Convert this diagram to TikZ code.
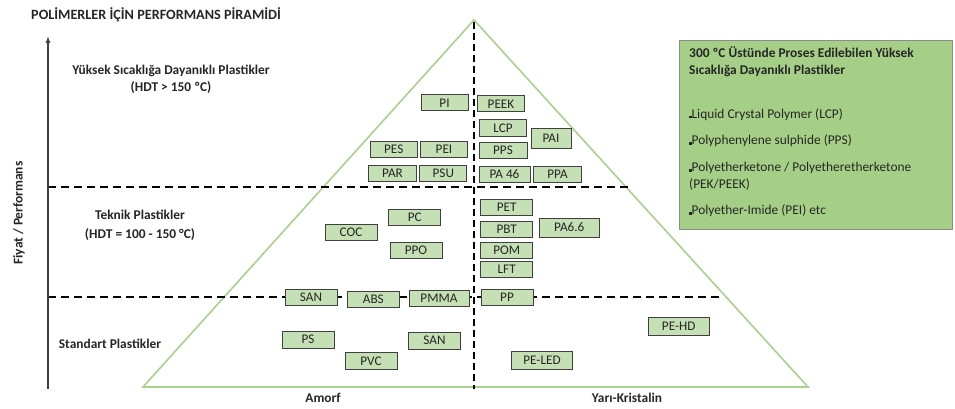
\documentclass[tikz,border=0pt]{standalone}
\usepackage{fontspec}
\setmainfont{Carlito}
\usetikzlibrary{arrows.meta}
\definecolor{tri}{HTML}{A9D18E}
\definecolor{boxfill}{HTML}{C5E0B4}
\definecolor{boxdraw}{HTML}{404040}
\definecolor{sidefill}{HTML}{A5CF86}
\definecolor{sidedraw}{HTML}{8C8C8C}
\definecolor{txt}{HTML}{262626}
\newcommand{\sqbul}{\rule{2.4pt}{2.4pt}}
\begin{document}
\begin{tikzpicture}[x=1pt,y=-1pt,
  pbox/.style={draw=boxdraw, line width=1pt, fill=boxfill, minimum width=#1,
    minimum height=16pt, inner sep=0pt, text=txt, font=\fontsize{13.2}{14}\selectfont},
  pbox/.default=52pt,
  divider/.style={line width=2pt, dash pattern=on 8pt off 5pt},
  lbl/.style={text=txt, font=\bfseries\fontsize{13.4}{18}\selectfont, align=center},
  sidetxt/.style={anchor=base west, text=txt, inner sep=0pt, font=\fontsize{13.4}{15}\selectfont}]
\useasboundingbox (0,0) rectangle (955,409);

% triangle
\coordinate (apex) at (474,20);
\coordinate (bl) at (143,387);
\coordinate (br) at (808,387);
\draw[tri, line width=1.6pt, line join=miter] (apex) -- (bl) -- (br) -- cycle;

% dividers
\coordinate (vtop) at (474,22);
\coordinate (vbot) at (474,389);
\draw[divider, dash pattern=on 7pt off 4pt] (vtop) -- (vbot);
\coordinate (h1a) at (48,187);
\coordinate (h1b) at (630,187);
\draw[divider] (h1a) -- (h1b);
\coordinate (h2a) at (48,297);
\coordinate (h2b) at (722,297);
\draw[divider] (h2a) -- (h2b);

% axis
\coordinate (ax0) at (48,389);
\coordinate (ax1) at (48,36);
\draw[-{Latex[length=7pt,width=5pt]}, line width=1.3pt, black!75] (ax0) -- (ax1);

% title and labels
\node[anchor=west, inner sep=0pt, text=txt, font=\bfseries\fontsize{14.2}{16}\selectfont] (title) at (31,15) {POLİMERLER İÇİN PERFORMANS PİRAMİDİ};
\node[lbl, font=\bfseries\fontsize{13.4}{16}\selectfont, rotate=90] (yl) at (19,213) {Fiyat / Performans};
\node[lbl, font=\bfseries\fontsize{13.4}{17}\selectfont] (l1) at (171,79.5) {Yüksek Sıcaklığa Dayanıklı Plastikler\\(HDT > 150 ºC)};
\node[lbl, font=\bfseries\fontsize{13.4}{19}\selectfont] (l2) at (140,225.5) {Teknik Plastikler\\(HDT = 100 - 150 °C)};
\node[lbl] (l3) at (110,344) {Standart Plastikler};
\node[lbl] (am) at (323,398) {Amorf};
\node[lbl] (yk) at (627,398) {Yarı-Kristalin};

% high temperature
\node[pbox=47pt] (pi) at (444.5,103) {PI};
\node[pbox=47pt] (peek) at (501,104) {PEEK};
\node[pbox=47pt] (lcp) at (503,128) {LCP};
\node[pbox=40pt, minimum height=19pt] (pai) at (551,138.5) {PAI};
\node[pbox=47pt] (pes) at (393.7,149.5) {PES};
\node[pbox=47pt] (pei) at (444,149.5) {PEI};
\node[pbox=48pt] (pps) at (503,150) {PPS};
\node[pbox=48pt] (par) at (392.5,173.5) {PAR};
\node[pbox=47pt] (psu) at (443.3,173.5) {PSU};
\node[pbox=51pt] (pa46) at (504.5,174) {PA 46};
\node[pbox=48pt] (ppa) at (557.5,174) {PPA};

% engineering
\node[pbox] (pet) at (506.7,207) {PET};
\node[pbox] (pbt) at (506.7,229) {PBT};
\node[pbox] (pom) at (506.7,250) {POM};
\node[pbox] (lft) at (506.7,269.5) {LFT};
\node[pbox=60pt, minimum height=19pt] (pa66) at (569.3,227.5) {PA6.6};
\node[pbox] (pc) at (414.7,217.7) {PC};
\node[pbox] (coc) at (351,232.5) {COC};
\node[pbox] (ppo) at (416,250.5) {PPO};
\node[pbox] (san1) at (311,297) {SAN};
\node[pbox] (abs) at (373.3,299) {ABS};
\node[pbox=60pt] (pmma) at (439,298.3) {PMMA};
\node[pbox] (pp) at (507,297) {PP};

% standard
\node[pbox, minimum height=17pt] (ps) at (308,339.7) {PS};
\node[pbox, minimum height=17pt] (pvc) at (371,361.3) {PVC};
\node[pbox, minimum height=17pt] (san2) at (434.5,340.7) {SAN};
\node[pbox=61pt, minimum height=18pt] (peled) at (542,360) {PE-LED};
\node[pbox=61pt, minimum height=18pt] (pehd) at (678.7,326.7) {PE-HD};

% side box
\node[draw=sidedraw, line width=1pt, fill=sidefill, minimum width=273pt, minimum height=189pt, anchor=north west, inner sep=0pt] (side) at (679,40) {};
\node[sidetxt, font=\bfseries\fontsize{13.4}{15}\selectfont] (s1) at (689,57.5) {300 ºC Üstünde Proses Edilebilen Yüksek};
\node[sidetxt, font=\bfseries\fontsize{13.4}{15}\selectfont] (s2) at (689,74.5) {Sıcaklığa Dayanıklı Plastikler};
\node[sidetxt] (b1) at (689,118) {\sqbul Liquid Crystal Polymer (LCP)};
\node[sidetxt] (b2) at (689,144.5) {\sqbul Polyphenylene sulphide (PPS)};
\node[sidetxt] (b3) at (689,171.5) {\sqbul Polyetherketone / Polyetheretherketone};
\node[sidetxt] (b4) at (689,188.5) {(PEK/PEEK)};
\node[sidetxt] (b5) at (689,214.5) {\sqbul Polyether-Imide (PEI) etc};
\end{tikzpicture}
\end{document}
